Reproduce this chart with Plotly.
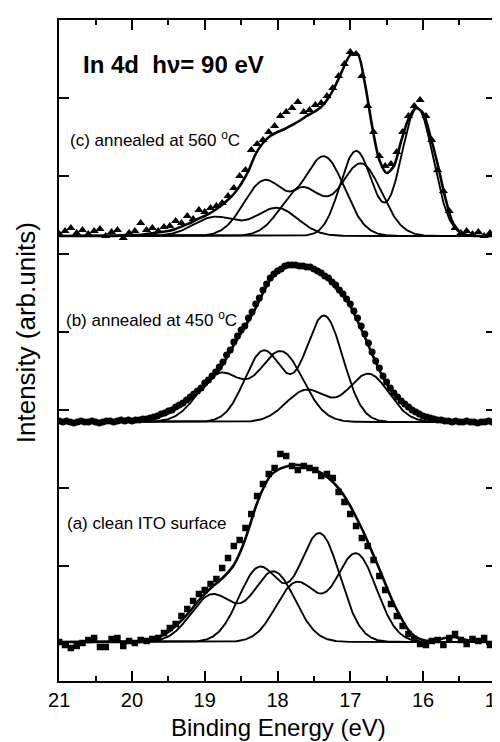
import numpy as np
import plotly.graph_objects as go

# ---- (a) clean ITO surface ----
# measured points, 0.08 eV steps from 21 eV down
meas_a = [0, -3, -6, -4, -1, 2, 4, -5, -5, 3,
          4, -4, 1, -1, 2, 1, 3, 4, 9, 14,
          18, 26, 33, 41, 48, 52, 58, 63, 74, 84,
          96, 102, 114, 128, 146, 158, 168, 174, 188, 186,
          176, 172, 176, 174, 172, 166, 168, 164, 150, 140,
          128, 116, 104, 96, 82, 66, 52, 38, 26, 16,
          8, 3, -2, -3, 1, 2, -3, 4, 8, 2,
          -2, 3, 1, 4, -3, 2]
# fit envelope, 0.1 eV steps from 21 eV down
env_a = [0, 0, 0, 0, 0, 0, 0, 0, 0, 0,
         0, 0, 1, 3, 6, 10, 16, 23, 31, 40,
         48, 55, 61, 68, 77, 92, 112, 135, 153, 166,
         172, 175, 177, 177, 175, 172, 169, 164, 157, 148,
         136, 122, 107, 90, 73, 55, 38, 24, 12, 5,
         2, 1, 2, 4, 5, 4, 2, 1, 0, 0,
         0]
# doublet components: [4d3/2, 4d5/2] centres (eV), heights, sigma
peaks_a_center = [[18.90, 18.05], [18.25, 17.42], [17.74, 16.92]]
peaks_a_height = [[47, 70], [74, 108], [59, 88]]
peaks_a_sigma = [0.29, 0.28, 0.28]
offset_a = 2

# ---- (b) annealed at 450 C ----
# measured points, 0.05 eV steps
meas_b = [1, 0, 1, 0, -1, 0, 1, 0, 0, 1,
          0, -1, 0, 1, 1, 0, 1, 2, 1, 2,
          1, 2, 2, 3, 3, 4, 5, 6, 8, 9,
          11, 12, 15, 17, 19, 22, 25, 28, 31, 34,
          39, 42, 46, 50, 55, 60, 67, 72, 80, 86,
          92, 96, 104, 110, 118, 124, 132, 138, 144, 148,
          151, 153, 156, 157, 157, 157, 156, 156, 155, 155,
          153, 151, 149, 146, 144, 140, 137, 132, 128, 123,
          118, 111, 104, 96, 88, 79, 70, 61, 54, 46,
          40, 34, 29, 25, 21, 18, 15, 12, 10, 8,
          6, 5, 4, 3, 2, 2, 1, 1, 0, 1,
          0, 0, 1, 0, 0, -1, 0, 0, 1, 0,
          0]
env_b = [0, 0, 0, 0, 0, 0, 0, 0, 0, 0,
         1, 2, 3, 5, 7, 9, 13, 17, 23, 29,
         36, 44, 52, 64, 77, 89, 101, 114, 129, 142,
         149, 154, 156, 156, 155, 153, 148, 142, 134, 126,
         116, 101, 85, 68, 52, 38, 28, 21, 15, 10,
         6, 4, 2, 1, 0, 0, 0, 0, 0, 0,
         0]
peaks_b_center = [[18.79, 17.95], [18.19, 17.36], [17.60, 16.75]]
peaks_b_height = [[48, 70], [71, 106], [32, 48]]
peaks_b_sigma = [0.30, 0.26, 0.28]
offset_b = 222

# ---- (c) annealed at 560 C ----
meas_c = [2, 5, 8, 3, 6, 2, 5, 7, 0, 4,
          6, -2, 3, 5, 13, 6, 8, 5, 9, 10,
          15, 13, 20, 17, 26, 24, 28, 30, 33, 40,
          48, 60, 66, 86, 92, 96, 104, 110, 120, 124,
          128, 134, 124, 126, 131, 133, 140, 148, 160, 172,
          184, 182, 160, 130, 104, 80, 70, 72, 84, 104,
          120, 130, 136, 120, 96, 66, 45, 25, 8, 3,
          5, 2, 4, 0, 3, 1]
env_c = [0, 0, 0, 0, 0, 0, 0, 0, 0, 1,
         1, 1, 2, 3, 4, 5, 7, 10, 13, 17,
         20, 24, 29, 35, 42, 52, 65, 82, 93, 100,
         104, 107, 111, 115, 120, 124, 129, 138, 151, 167,
         181, 182, 153, 110, 76, 63, 70, 95, 117, 128,
         123, 100, 72, 40, 15, 4, 1, 0, 0, 0,
         0]
peaks_c_center = [[18.86, 18.01], [18.18, 17.36], [17.67, 16.85], [16.92, 16.08]]
peaks_c_height = [[19, 28], [55, 79], [48, 72], [85, 128]]
peaks_c_sigma = [0.29, 0.28, 0.28, 0.22]
offset_c = 408

x_ticks = [21, 20, 19, 18, 17, 16, 15]
energy_fit = np.linspace(21, 15, 601)


def energies(values, step):
    return np.round(21 - step * np.arange(len(values)), 2)


def doublet(e, centers, heights, sigma):
    return sum(h * np.exp(-(e - c) ** 2 / (2 * sigma ** 2)) for c, h in zip(centers, heights))


def add_spectrum(fig, meas, meas_step, env, centers, heights, sigmas, offset, symbol, size):
    for c, h, s in zip(centers, heights, sigmas):
        fig.add_trace(go.Scatter(x=energy_fit, y=doublet(energy_fit, c, h, s) + offset, mode="lines",
                                 line=dict(color="black", width=1.9), showlegend=False))
    fig.add_trace(go.Scatter(x=energies(env, 0.1), y=np.array(env) + offset, mode="lines",
                             line=dict(color="black", width=2.6, shape="spline", smoothing=0.8),
                             showlegend=False))
    fig.add_trace(go.Scatter(x=energies(meas, meas_step), y=np.array(meas) + offset, mode="markers",
                             marker=dict(symbol=symbol, size=size, color="black", line=dict(width=0)),
                             showlegend=False))


fig = go.Figure()
add_spectrum(fig, meas_a, 0.08, env_a, peaks_a_center, peaks_a_height, peaks_a_sigma, offset_a, "square", 6.5)
add_spectrum(fig, meas_b, 0.05, env_b, peaks_b_center, peaks_b_height, peaks_b_sigma, offset_b, "circle", 7)
add_spectrum(fig, meas_c, 0.08, env_c, peaks_c_center, peaks_c_height, peaks_c_sigma, offset_c, "triangle-up", 8)

font = "Liberation Sans, Arial, sans-serif"
fig.update_layout(
    width=500, height=742,
    margin=dict(l=51, r=12, t=12, b=69),
    paper_bgcolor="white", plot_bgcolor="white",
    font=dict(family=font, color="black"),
    xaxis=dict(range=[21.003, 14.997], tickvals=x_ticks, automargin=False,
               ticklabeloverflow="allow",
               ticks="inside", ticklen=10, tickwidth=2, tickcolor="black",
               minor=dict(dtick=0.5, ticks="inside", ticklen=5, tickwidth=2, tickcolor="black"),
               showline=True, linewidth=2, linecolor="black", mirror="ticks",
               showgrid=False, zeroline=False, tickfont=dict(size=20)),
    yaxis=dict(range=[-37, 624], tickvals=[0, 78, 156, 234, 312, 390, 468, 546], automargin=False,
               ticks="inside", ticklen=10, tickwidth=2, tickcolor="black",
               showticklabels=False, showline=True, linewidth=2, linecolor="black",
               mirror="ticks", showgrid=False, zeroline=False),
    annotations=[
        dict(text="<b>In 4d\u00a0\u00a0h\u03bd= 90 eV</b>", x=0.05, y=0.933, xref="paper", yref="paper",
             xanchor="left", yanchor="middle", showarrow=False, font=dict(size=24)),
        dict(text="(c) annealed at 560 <sup>o</sup>C", x=0.02, y=0.82, xref="paper", yref="paper",
             xanchor="left", yanchor="middle", showarrow=False, font=dict(size=17)),
        dict(text="(b) annealed at 450 <sup>o</sup>C", x=0.011, y=0.548, xref="paper", yref="paper",
             xanchor="left", yanchor="middle", showarrow=False, font=dict(size=17)),
        dict(text="(a) clean ITO surface", x=0.013, y=0.239, xref="paper", yref="paper",
             xanchor="left", yanchor="middle", showarrow=False, font=dict(size=17)),
        dict(text="Intensity (arb.units)", x=-0.075, y=0.5265, xref="paper", yref="paper",
             xanchor="center", yanchor="middle", textangle=-90, showarrow=False, font=dict(size=26)),
        dict(text="Binding Energy (eV)", x=0.503, y=-0.0696, xref="paper", yref="paper",
             xanchor="center", yanchor="middle", showarrow=False, font=dict(size=24)),
    ],
)

fig.write_html("out.html")
